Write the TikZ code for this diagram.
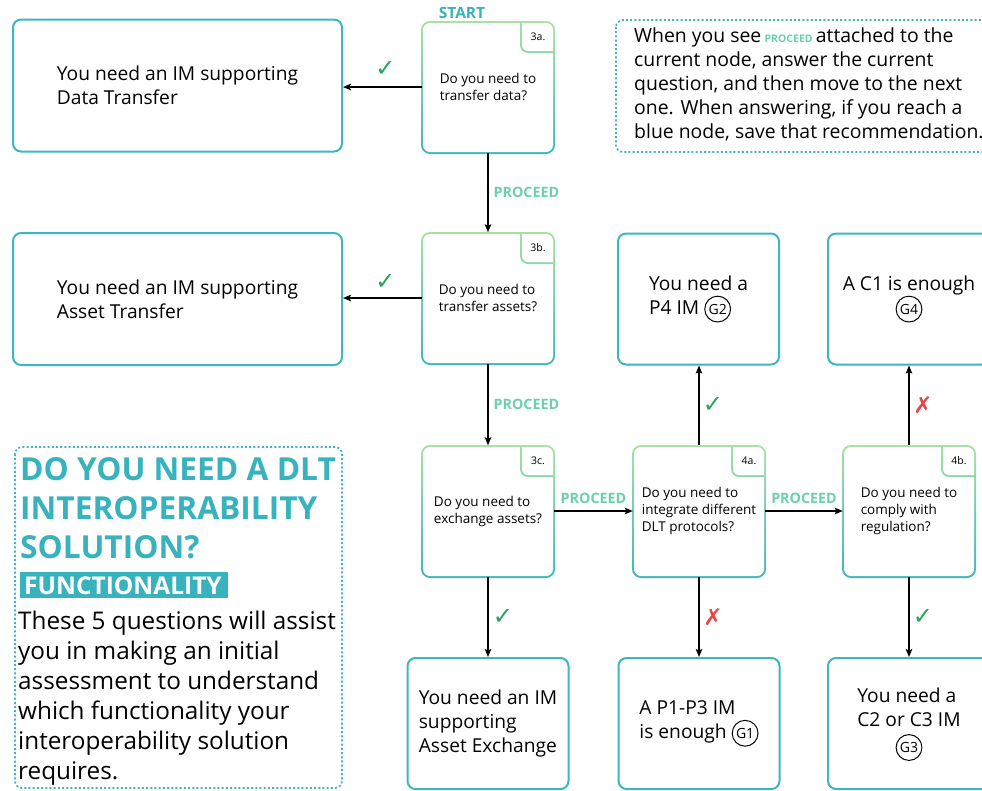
\documentclass[tikz,border=0pt]{standalone}
\usepackage{fontspec}
\setmainfont{Open Sans}
\newfontfamily\symfont{DejaVu Sans}
\usetikzlibrary{arrows.meta}

\definecolor{boxteal}{HTML}{3DB6BF}
\definecolor{titleteal}{HTML}{38B3BE}
\definecolor{qgreen}{HTML}{A8E2A2}
\definecolor{tabcol}{HTML}{8ED8A8}
\definecolor{proceedcol}{HTML}{6CCFAE}
\definecolor{checkgreen}{HTML}{27A55A}
\definecolor{crossred}{HTML}{E84646}

% circled goal marker
\newcommand\goal[1]{\tikz[baseline=(gm.base)]\node[draw=black, circle, fill=none,
  minimum width=0pt, minimum height=0pt, line width=1pt, inner sep=1.8pt,
  font=\fontsize{14}{14}\selectfont](gm){#1};}

% question box with gradient border and numbered tab
% #1 name, #2 left x, #3 top y, #4 tag, #5 question
\newcommand\qbox[5]{%
  \shade[top color=qgreen, bottom color=boxteal, rounded corners=9pt] (#2-1,#3-1) rectangle (#2+133,#3+132);
  \fill[white, rounded corners=7pt] (#2+1,#3+1) rectangle (#2+131,#3+130);
  \begin{scope}
    \clip[rounded corners=7pt] (#2+1,#3+1) rectangle (#2+131,#3+130);
    \shade[top color=qgreen, bottom color=tabcol, rounded corners=8pt]
      (#2+98,#3-10) -- (#2+98,#3+31) -- (#2+140,#3+31) -- (#2+140,#3-10) -- cycle;
    \fill[white, rounded corners=6pt]
      (#2+100,#3-10) -- (#2+100,#3+29) -- (#2+140,#3+29) -- (#2+140,#3-10) -- cycle;
  \end{scope}
  \node[font=\fontsize{10.5}{10.5}\selectfont] (#1-tag) at (#2+116,#3+15) {#4};
  \node[qtext] (#1) at (#2+66,#3+65) {#5};
}

\begin{document}
\begin{tikzpicture}[x=1pt,y=-1pt,
  rec/.style={draw=boxteal, line width=2pt, rounded corners=8pt, fill=white,
    align=left, inner sep=0pt, font=\fontsize{19.2}{24}\selectfont},
  wide/.style={rec, minimum width=329pt, minimum height=132pt},
  narrow/.style={rec, minimum width=161pt, minimum height=131pt},
  qtext/.style={align=left, font=\fontsize{13.5}{17}\selectfont,
    minimum width=132pt, minimum height=131pt, inner sep=0pt},
  arr/.style={-{Stealth[length=8pt,width=6.5pt,inset=1.5pt]}, line width=1.3pt},
  yes/.style={text=checkgreen, font=\symfont\fontsize{24}{24}\selectfont},
  no/.style={text=crossred, font=\symfont\fontsize{23}{23}\selectfont},
  proceed/.style={text=proceedcol, font=\bfseries\fontsize{14.3}{14.3}\selectfont, inner sep=0pt},
  dotbox/.style={draw=boxteal, line width=1.8pt, dash pattern=on 2pt off 2.2pt, rounded corners=7pt}]

\clip (0,0) rectangle (982,790);
\fill[white] (0,0) rectangle (982,790);

% question column
\qbox{q3a}{422}{22}{3a.}{Do you need to\\transfer data?}
\qbox{q3b}{422}{233}{3b.}{Do you need to\\transfer assets?}
\qbox{q3c}{422}{446}{3c.}{Do you need to\\exchange assets?}
\qbox{q4a}{633}{446}{4a.}{Do you need to\\integrate different\\DLT protocols?}
\qbox{q4b}{843}{446}{4b.}{Do you need to\\comply with\\regulation?}

\node[text=titleteal, font=\bfseries\fontsize{15.5}{15.5}\selectfont] (start) at (462,13) {START};

% recommendations
\node[wide] (r1) at (177.5,85.5) {You need an IM supporting\\Data Transfer};
\node[wide] (r2) at (177.5,299) {You need an IM supporting\\Asset Transfer};
\node[narrow] (r6) at (698.5,299) {You need a\\P4 IM \goal{G2}};
\node[narrow, minimum width=162pt, align=center] (r7) at (909,299) {A C1 is enough\\\goal{G4}};
\node[narrow] (r3) at (488,723.5) {You need an IM\\supporting\\Asset Exchange};
\node[narrow] (r4) at (699,723.5) {A P1-P3 IM\\is enough \goal{G1}};
\node[narrow, minimum width=162pt] (r5) at (909,723.5)
  {\begin{tabular}{@{}l@{}}You need a\\C2 or C3 IM\\\multicolumn{1}{@{}c@{}}{\goal{G3}}\end{tabular}};

% connectors
\draw[arr] (q3a.west) -- node[yes, midway, yshift=18pt, xshift=3pt] {✓} (q3a.west -| r1.east);
\draw[arr] (q3b.west) -- node[yes, midway, yshift=16pt, xshift=3pt] {✓} (q3b.west -| r2.east);
\draw[arr] (q3a.south) -- node[proceed, midway, anchor=west, xshift=5pt] {PROCEED} (q3b.north);
\draw[arr] (q3b.south) -- node[proceed, midway, anchor=west, xshift=5pt] {PROCEED} (q3c.north);
\draw[arr] (q3c.east) -- node[proceed, midway, yshift=13pt] {PROCEED} (q3c.east -| q4a.west);
\draw[arr] (q4a.east) -- node[proceed, midway, yshift=13pt] {PROCEED} (q4a.east -| q4b.west);
\draw[arr] (q3c.south) -- node[yes, midway, xshift=15pt] {✓} (q3c.south |- r3.north);
\draw[arr] (q4a.south) -- node[no, midway, xshift=14pt] {✗} (q4a.south |- r4.north);
\draw[arr] (q4b.south) -- node[yes, midway, xshift=14pt] {✓} (q4b.south |- r5.north);
\draw[arr] (q4a.north) -- node[yes, midway, xshift=14pt] {✓} (q4a.north |- r6.south);
\draw[arr] (q4b.north) -- node[no, midway, xshift=14pt] {✗} (q4b.north |- r7.south);

% reading note
\draw[dotbox] (616,20) rectangle (1000,152);
\node[anchor=north west, inner sep=0pt, align=left, font=\fontsize{19.4}{24}\selectfont] (note) at (634,28)
  {When you see\,{\color{proceedcol}\bfseries\fontsize{10.5}{10.5}\selectfont PROCEED}\,attached to the\\
   current node, answer the current\\
   question, and then move to the next\\
   one. When answering, if you reach a\\
   blue node, save that recommendation.};

% title panel
\draw[dotbox] (15,447) rectangle (342,788);
\node[anchor=north west, inner sep=0pt, align=left, text=titleteal,
  font=\bfseries\fontsize{31.7}{39}\selectfont] (title) at (20,457)
  {DO YOU NEED A DLT\\INTEROPERABILITY\\SOLUTION?};
\fill[titleteal] (20,572) rectangle (228,598);
\node[anchor=west, inner sep=0pt, text=white, font=\bfseries\fontsize{24.5}{24.5}\selectfont] (func) at (24,585.5) {FUNCTIONALITY};
\node[anchor=north west, inner sep=0pt, align=left, font=\fontsize{24.3}{30}\selectfont] (body) at (18,611)
  {These 5 questions will assist\\you in making an initial\\assessment to understand\\which functionality your\\interoperability solution\\requires.};
\end{tikzpicture}
\end{document}
